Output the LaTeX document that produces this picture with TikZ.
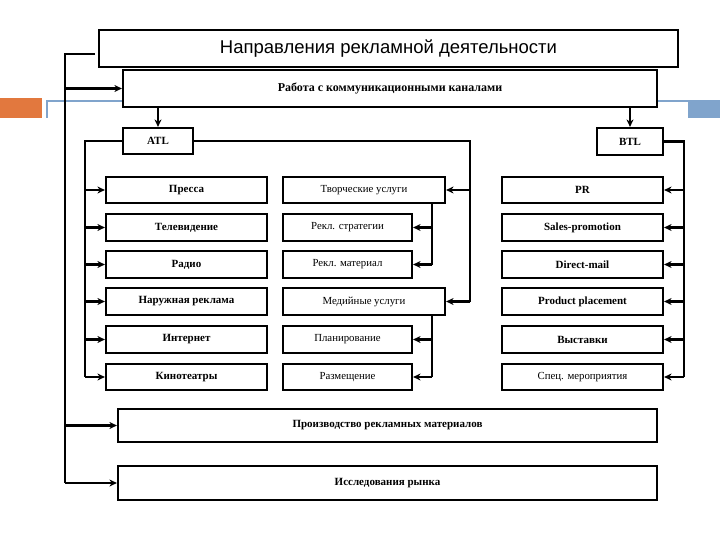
\documentclass[tikz,border=0pt]{standalone}
\usepackage{fontspec}
\setmainfont{Liberation Serif}
\newfontfamily\titlefont{Liberation Sans}
\usetikzlibrary{arrows.meta}
\definecolor{decoorange}{RGB}{226,120,62}
\definecolor{decoblue}{RGB}{128,164,204}
\begin{document}
\begin{tikzpicture}[x=1pt,y=-1pt,
  box/.style={draw,fill=white,line width=2.2pt,inner sep=0pt,font=\bfseries\fontsize{11}{13}\selectfont},
  lbox/.style={box,minimum width=161pt,minimum height=26.5pt},
  mbox/.style={box,font=\fontsize{10.8}{13}\selectfont,minimum width=162pt,minimum height=26.5pt},
  sbox/.style={box,font=\fontsize{10.8}{13}\selectfont,minimum width=129pt,minimum height=26.5pt},
  conn/.style={line width=2.6pt},
  arr/.style={line width=2.6pt,-{Stealth[length=7.5pt,width=7pt]}},
]
\useasboundingbox (0,0) rectangle (720,540);
% template decorations
\fill[decoorange] (0,98) rectangle (42,118);
\draw[decoblue,line width=2.5pt] (47,118) |- (123,101);
\draw[decoblue,line width=2.5pt] (657,101) -- (720,101);
\fill[decoblue] (688,100) rectangle (720,118);

% top boxes
\node[box,minimum width=579pt,minimum height=37pt,font=\titlefont\fontsize{18.5}{22}\selectfont] (title) at (388.5,48.5) {Направления рекламной деятельности};
\node[box,minimum width=534pt,minimum height=37pt,font=\bfseries\fontsize{12}{14}\selectfont] (work) at (390,88.5) {Работа с коммуникационными каналами};
\node[box,minimum width=70pt,minimum height=26pt] (atl) at (158,141) {ATL};
\node[box,minimum width=66pt,minimum height=27pt] (btl) at (630,141.5) {BTL};

% left column
\node[lbox] (l1) at (186.5,190) {Пресса};
\node[lbox] (l2) at (186.5,227.5) {Телевидение};
\node[lbox] (l3) at (186.5,264.5) {Радио};
\node[lbox] (l4) at (186.5,301.5) {Наружная реклама};
\node[lbox] (l5) at (186.5,339.5) {Интернет};
\node[lbox] (l6) at (186.5,377) {Кинотеатры};

% middle column
\node[mbox] (m1) at (364,190) {Творческие услуги};
\node[sbox] (m2) at (347.5,227.5) {Рекл. стратегии};
\node[sbox] (m3) at (347.5,264.5) {Рекл. материал};
\node[mbox] (m4) at (364,301.5) {Медийные услуги};
\node[sbox] (m5) at (347.5,339.5) {Планирование};
\node[sbox] (m6) at (347.5,377) {Размещение};

% right column
\node[lbox] (r1) at (582.5,190) {PR};
\node[lbox] (r2) at (582.5,227.5) {Sales-promotion};
\node[lbox] (r3) at (582.5,264.5) {Direct-mail};
\node[lbox] (r4) at (582.5,301.5) {Product placement};
\node[lbox] (r5) at (582.5,339.5) {Выставки};
\node[lbox,font=\fontsize{10.8}{13}\selectfont] (r6) at (582.5,377) {Спец. мероприятия};

% bottom boxes
\node[box,minimum width=539pt,minimum height=33pt] (prod) at (387.5,425.5) {Производство рекламных материалов};
\node[box,minimum width=539pt,minimum height=34pt] (res) at (387.5,483) {Исследования рынка};

% bus coordinates
\coordinate (ltop) at (95,54);
\coordinate (lbot) at (65,483);
\coordinate (ax) at (85,377);
\coordinate (mx) at (470,301.5);
\coordinate (sx1) at (432,264.5);
\coordinate (sx2) at (432,377);
\coordinate (rx) at (684,377);

% outer left bus
\draw[conn] (ltop) -- (ltop -| lbot) -- (lbot);
\draw[arr] (work.west -| lbot) -- (work.west);
\draw[arr] (prod.west -| lbot) -- (prod.west);
\draw[arr] (res.west -| lbot) -- (res.west);

% down to ATL / BTL
\draw[arr] (atl.north |- work.south) -- (atl.north);
\draw[arr] (btl.north |- work.south) -- (btl.north);

% ATL left bus
\draw[conn] (atl.west) -| (ax);
\foreach \n in {l1,l2,l3,l4,l5,l6}
  \draw[arr] (\n.west -| ax) -- (\n.west);

% ATL middle bus
\draw[conn] (atl.east) -| (mx);
\draw[arr] (m1.east -| mx) -- (m1.east);
\draw[arr] (m4.east -| mx) -- (m4.east);

% sub buses
\draw[conn] (m1.south -| sx1) -- (sx1);
\draw[arr] (m2.east -| sx1) -- (m2.east);
\draw[arr] (m3.east -| sx1) -- (m3.east);
\draw[conn] (m4.south -| sx2) -- (sx2);
\draw[arr] (m5.east -| sx2) -- (m5.east);
\draw[arr] (m6.east -| sx2) -- (m6.east);

% BTL right bus
\draw[conn] (btl.east) -| (rx);
\foreach \n in {r1,r2,r3,r4,r5,r6}
  \draw[arr] (\n.east -| rx) -- (\n.east);
\end{tikzpicture}
\end{document}
